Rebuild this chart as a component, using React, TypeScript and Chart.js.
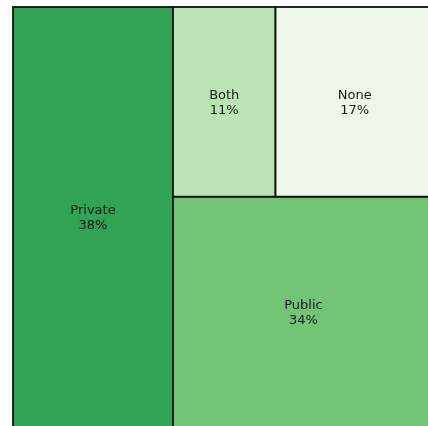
import React, { useEffect, useRef } from "react";
import { Chart, registerables } from "chart.js";

Chart.register(...registerables);

const categories = ["Private", "Public", "Both", "None"];
const shares = [38, 34, 11, 17];
const colors = ["#31a354", "#74c476", "#bae4b3", "#edf8e9"];

type Rect = { x: number; y: number; dx: number; dy: number };

// Strip layout: each item takes a strip along the shorter side of the remaining area
function layout(values: number[], W: number, H: number): Rect[] {
  const total = values.reduce((a, b) => a + b, 0);
  let x = 0, y = 0, dx = W, dy = H;
  let remaining = total;
  const out: Rect[] = [];
  values.forEach((v, i) => {
    if (i === values.length - 1) {
      out.push({ x, y, dx, dy });
      return;
    }
    const frac = v / remaining;
    if (dx >= dy) {
      const w = dx * frac;
      out.push({ x, y, dx: w, dy });
      x += w;
      dx -= w;
    } else {
      const h = dy * frac;
      out.push({ x, y, dx, dy: h });
      y += h;
      dy -= h;
    }
    remaining -= v;
  });
  return out;
}

const rects = layout(shares, 100, 100);

const treemapPlugin = {
  id: "treemapRects",
  beforeDatasetsDraw(chart: any) {
    const { ctx, scales } = chart;
    const xs = scales.x, ys = scales.y;
    ctx.save();
    rects.forEach((r, i) => {
      const x0 = xs.getPixelForValue(r.x);
      const x1 = xs.getPixelForValue(r.x + r.dx);
      const y0 = ys.getPixelForValue(r.y + r.dy);
      const y1 = ys.getPixelForValue(r.y);
      ctx.fillStyle = colors[i];
      ctx.fillRect(x0, y0, x1 - x0, y1 - y0);
      ctx.lineWidth = 1.8;
      ctx.strokeStyle = "#111111";
      ctx.strokeRect(x0, y0, x1 - x0, y1 - y0);
    });
    ctx.fillStyle = "#1a1a1a";
    ctx.font = "13px 'DejaVu Sans', sans-serif";
    ctx.textAlign = "center";
    ctx.textBaseline = "middle";
    rects.forEach((r, i) => {
      const cx = xs.getPixelForValue(r.x + r.dx / 2);
      const cy = ys.getPixelForValue(r.y + r.dy / 2);
      ctx.fillText(categories[i], cx, cy - 6.5);
      ctx.fillText(shares[i] + "%", cx, cy + 8.5);
    });
    ctx.restore();
  },
};

export default function App() {
  const ref = useRef<HTMLCanvasElement>(null);
  useEffect(() => {
    if (!ref.current) return;
    const chart = new Chart(ref.current, {
      type: "scatter",
      data: {
        datasets: [
          {
            data: rects.map((r) => ({ x: r.x + r.dx / 2, y: r.y + r.dy / 2 })),
            pointRadius: 0,
            pointHoverRadius: 0,
          },
        ],
      },
      options: {
        animation: false,
        responsive: false,
        layout: { padding: { left: 13, top: 7, right: 6, bottom: 13 } },
        plugins: { legend: { display: false }, tooltip: { enabled: false } },
        scales: {
          x: { type: "linear", min: 0, max: 100, display: false },
          y: { type: "linear", min: 0, max: 100, display: false },
        },
      },
      plugins: [treemapPlugin],
    });
    return () => chart.destroy();
  }, []);
  return (
    <div style={{ position: "absolute", left: 0, top: 0, width: 440, height: 440 }}>
      <canvas ref={ref} width={440} height={440} style={{ width: 440, height: 440, display: "block" }} />
    </div>
  );
}
